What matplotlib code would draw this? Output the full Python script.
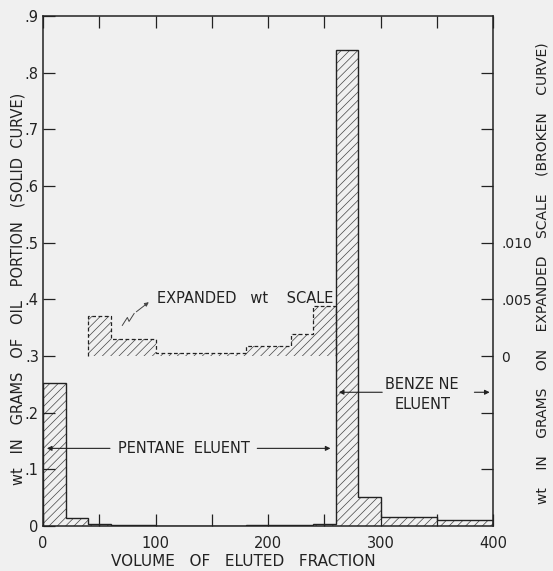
import matplotlib
matplotlib.use("Agg")
import matplotlib.pyplot as plt
import numpy as np

# ---- data ----
bin_edges = [0, 20, 40, 60, 100, 180, 220, 240, 260, 280, 300, 350, 400]
wt_grams = [0.253, 0.015, 0.0035, 0.0015, 0.0003, 0.0009, 0.0019, 0.0044,
            0.840, 0.052, 0.016, 0.010]
exp_edges = [40, 60, 100, 180, 220, 240, 260]
exp_wt = [0.0035, 0.0015, 0.0003, 0.0009, 0.0019, 0.0044]

x_ticks = [0, 100, 200, 300, 400]
x_minor = [50, 150, 250, 350]
y_ticks = [0, .1, .2, .3, .4, .5, .6, .7, .8, .9]
y_labels = ["0", ".1", ".2", ".3", ".4", ".5", ".6", ".7", ".8", ".9"]
r_ticks = [-0.010, -0.005, 0, 0.005, 0.010, 0.015, 0.020, 0.025]
r_labels = ["", "", "0", ".005", ".010", "", "", ""]

plt.rcParams['font.family'] = ['DejaVu Sans']
plt.rcParams['hatch.linewidth'] = 0.5
plt.rcParams['hatch.color'] = '#444444'

fig = plt.figure(figsize=(5.53, 5.71), dpi=100)
fig.patch.set_facecolor('#f0f0f0')
ax = fig.add_axes([43/553, 1-526/571, 450/553, 510/571])
ax.set_facecolor('#f0f0f0')

edges = np.array(bin_edges, dtype=float)
widths = np.diff(edges)
ax.bar(edges[:-1], wt_grams, width=widths, align='edge', facecolor='none',
       edgecolor='#444444', hatch='////', linewidth=0)
ax.stairs(wt_grams, edges, baseline=0, color='#222222', linewidth=1.0)

ax.set_xlim(0, 400)
ax.set_ylim(0, 0.9)

ax.set_xticks(x_ticks)
ax.set_xticks(x_minor, minor=True)
ax.set_yticks(y_ticks)
ax.set_yticklabels(y_labels)
ax.tick_params(axis='both', which='both', direction='in', length=8.5, width=0.9,
               top=True, labelsize=10.5, colors='#222222')
ax.tick_params(axis='y', pad=3)
ax.tick_params(axis='x', pad=7)
for s in ax.spines.values():
    s.set_linewidth(1.1)
    s.set_color('#222222')

# expanded scale axis
ax2 = ax.twinx()
ax2.set_ylim(-0.015, 0.030)
eedges = np.array(exp_edges, dtype=float)
ax2.bar(eedges[:-1], exp_wt, width=np.diff(eedges), align='edge', facecolor='none',
        edgecolor='#444444', hatch='////', linewidth=0)
ax2.stairs(exp_wt, eedges, baseline=0, color='#222222', linewidth=0.9,
           linestyle=(0, (3, 2)))
ax2.set_yticks(r_ticks)
ax2.set_yticklabels(r_labels)
ax2.tick_params(axis='y', direction='in', length=8.5, width=0.9, labelsize=10,
                pad=6, colors='#222222')
for s in ax2.spines.values():
    s.set_visible(False)

# annotations
arrow = dict(arrowstyle='-|>', lw=0.8, color='#222222', mutation_scale=7)
ax.annotate('', xy=(1, 0.137), xytext=(62, 0.137), arrowprops=arrow)
ax.annotate('', xy=(258, 0.137), xytext=(188, 0.137), arrowprops=arrow)
ax.text(125, 0.137, 'PENTANE  ELUENT', ha='center', va='center', fontsize=10.5,
        color='#222222')

ax.annotate('', xy=(260.5, 0.236), xytext=(304, 0.236), arrowprops=arrow)
ax.annotate('', xy=(399.5, 0.236), xytext=(381, 0.236), arrowprops=arrow)
ax.text(337, 0.249, 'BENZE NE', ha='center', va='center', fontsize=10.5, color='#222222')
ax.text(337, 0.215, 'ELUENT', ha='center', va='center', fontsize=10.5, color='#222222')

ax.text(101, 0.401, 'EXPANDED   wt    SCALE', ha='left', va='center', fontsize=10.5,
        color='#222222')
sq_x = [70.5, 75, 76.5, 81]
sq_y = [0.354, 0.368, 0.361, 0.375]
ax.plot(sq_x, sq_y, color='#444444', lw=0.7)
ax.annotate('', xy=(96, 0.398), xytext=(81, 0.375), arrowprops=dict(
    arrowstyle='-|>', lw=0.7, color='#444444', mutation_scale=6))

fig.text(18/553, 1-289/571, 'wt   IN   GRAMS   OF   OIL   PORTION   (SOLID  CURVE)',
         rotation=90, ha='center', va='center', fontsize=10.5, color='#222222')
fig.text(543/553, 1-273/571, 'wt    IN    GRAMS    ON    EXPANDED    SCALE    (BROKEN    CURVE)',
         rotation=90, ha='center', va='center', fontsize=10, color='#222222')
fig.text(243.5/553, 1-562/571, 'VOLUME   OF   ELUTED   FRACTION', ha='center',
         va='center', fontsize=11, color='#222222')

fig.savefig('out.png', dpi=100, facecolor=fig.get_facecolor())
